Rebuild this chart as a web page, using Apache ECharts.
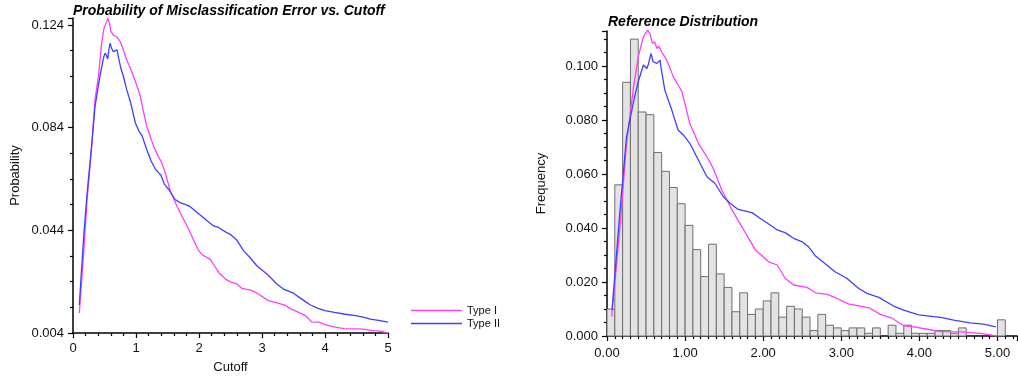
<!DOCTYPE html>
<html>
<head>
<meta charset="utf-8">
<script src="https://cdn.jsdelivr.net/npm/echarts@6/dist/echarts.min.js"></script>
<style>
  html, body { margin: 0; padding: 0; background: #fff; }
  #chart { width: 1018px; height: 379px; }
</style>
</head>
<body>
<div id="chart"></div>
<script>
// left panel: misclassification probability vs cutoff, [cutoff, probability]
const probTypeI = [
  [0.10,0.0118],[0.17,0.0353],[0.22,0.0548],[0.30,0.078],[0.35,0.0949],[0.41,0.1052],[0.45,0.116],
  [0.49,0.1225],[0.53,0.125],[0.555,0.1266],[0.58,0.1245],[0.60,0.1215],[0.62,0.1222],[0.64,0.1200],
  [0.67,0.1205],[0.69,0.1195],[0.72,0.1185],[0.75,0.1175],[0.80,0.1143],[0.85,0.1105],[0.91,0.1072],
  [0.99,0.102],[1.07,0.0962],[1.12,0.090],[1.17,0.0845],[1.28,0.0767],[1.35,0.073],[1.41,0.0703],
  [1.48,0.065],[1.545,0.0593],[1.65,0.0534],[1.73,0.0495],[1.81,0.0457],[1.90,0.041],[1.99,0.0362],
  [2.05,0.0345],[2.18,0.0327],[2.25,0.030],[2.31,0.0276],[2.42,0.025],[2.50,0.0239],[2.60,0.0231],
  [2.68,0.0214],[2.80,0.0208],[2.87,0.0202],[2.95,0.0191],[3.10,0.0166],[3.24,0.0157],[3.37,0.0148],
  [3.45,0.0135],[3.53,0.0126],[3.69,0.0108],[3.79,0.0083],[3.90,0.0082],[4.00,0.0073],[4.14,0.0064],
  [4.30,0.0057],[4.51,0.0056],[4.60,0.0055],[4.77,0.0049],[4.85,0.0048],[5.00,0.004]
];
const probTypeII = [
  [0.10,0.0149],[0.17,0.0418],[0.22,0.0573],[0.30,0.078],[0.35,0.0923],[0.41,0.1014],[0.45,0.107],
  [0.49,0.1117],[0.51,0.113],[0.53,0.1122],[0.55,0.1107],[0.57,0.1145],[0.59,0.1169],[0.61,0.1150],
  [0.64,0.1136],[0.67,0.113],[0.70,0.1143],[0.72,0.1117],[0.76,0.107],[0.80,0.104],[0.85,0.099],
  [0.91,0.0942],[0.99,0.0858],[1.05,0.0825],[1.10,0.0806],[1.17,0.0755],[1.24,0.071],[1.31,0.0677],
  [1.39,0.0657],[1.45,0.062],[1.52,0.0599],[1.62,0.056],[1.70,0.0548],[1.79,0.054],[1.86,0.0532],
  [1.97,0.0509],[2.10,0.0483],[2.23,0.0457],[2.31,0.0451],[2.44,0.0431],[2.50,0.0424],[2.60,0.0402],
  [2.71,0.036],[2.81,0.0334],[2.92,0.0301],[3.00,0.0285],[3.10,0.0265],[3.24,0.023],[3.34,0.0211],
  [3.42,0.0203],[3.50,0.0195],[3.63,0.0172],[3.77,0.0149],[3.88,0.0137],[4.00,0.0127],[4.15,0.012],
  [4.30,0.0114],[4.51,0.0107],[4.62,0.0101],[4.72,0.0094],[4.85,0.0089],[5.00,0.0082]
];

// right panel: reference distribution curves, [x, frequency]
const refTypeI = [
  [0.06,0.0072],[0.167,0.0405],[0.25,0.0714],[0.34,0.0923],[0.40,0.1034],[0.466,0.1109],[0.52,0.1133],
  [0.55,0.1121],[0.58,0.1084],[0.61,0.109],[0.64,0.1065],[0.66,0.1074],[0.70,0.1053],[0.765,0.1022],
  [0.85,0.096],[0.96,0.0905],[1.06,0.0788],[1.17,0.0714],[1.28,0.0664],[1.36,0.0621],[1.47,0.0541],
  [1.60,0.0467],[1.75,0.0393],[1.90,0.0319],[1.96,0.0304],[2.07,0.0275],[2.18,0.0263],[2.28,0.0214],
  [2.39,0.0189],[2.56,0.018],[2.67,0.016],[2.82,0.0154],[2.94,0.014],[3.09,0.0119],[3.24,0.0111],
  [3.37,0.0103],[3.50,0.008],[3.65,0.0066],[3.80,0.0038],[3.93,0.0034],[4.10,0.0025],[4.27,0.0016],
  [4.53,0.0015],[4.78,0.001],[4.95,0.0002],[5.00,0.0]
];
const refTypeII = [
  [0.064,0.0096],[0.167,0.0467],[0.25,0.0738],[0.34,0.0868],[0.40,0.0942],[0.466,0.1004],[0.51,0.0991],
  [0.53,0.1007],[0.564,0.1047],[0.59,0.1016],[0.64,0.101],[0.68,0.1022],[0.69,0.0998],[0.74,0.0911],
  [0.83,0.0837],[0.91,0.0763],[0.98,0.0744],[1.06,0.0714],[1.17,0.0652],[1.28,0.059],[1.38,0.0566],
  [1.49,0.0516],[1.58,0.0491],[1.68,0.0469],[1.855,0.0457],[1.96,0.0436],[2.09,0.0411],[2.18,0.0393],
  [2.28,0.0383],[2.39,0.0362],[2.50,0.0349],[2.58,0.0331],[2.67,0.0296],[2.79,0.0269],[2.92,0.0238],
  [3.07,0.0214],[3.22,0.0177],[3.33,0.0158],[3.48,0.0143],[3.67,0.0111],[3.80,0.0096],[3.99,0.0078],
  [4.27,0.0069],[4.44,0.0059],[4.65,0.0049],[4.82,0.0044],[4.98,0.0034]
];

// histogram bins (start of each bin) and their frequencies
const binStart = [
  0.0,0.1,0.2,0.3,0.4,0.5,0.6,0.7,0.8,0.9,
  1.0,1.1,1.2,1.3,1.4,1.5,1.6,1.7,1.8,1.9,
  2.0,2.1,2.2,2.3,2.4,2.5,2.6,2.7,2.8,2.9,
  3.0,3.1,3.2,3.3,3.4,3.5,3.6,3.7,3.8,3.9,
  4.0,4.1,4.2,4.3,4.4,4.5,4.6,4.7,4.8,4.9,
  5.0
];
const binFreq = [
  0.010,0.056,0.094,0.110,0.083,0.082,0.068,0.061,0.055,0.049,
  0.041,0.032,0.022,0.034,0.023,0.018,0.009,0.016,0.008,0.010,
  0.013,0.016,0.007,0.011,0.010,0.007,0.002,0.008,0.004,0.003,
  0.002,0.003,0.003,0.001,0.003,0.000,0.004,0.001,0.004,0.001,
  0.001,0.001,0.002,0.002,0.001,0.003,0.000,0.000,0.000,0.000,
  0.006
];
const binWidth = 0.1;

const FONT = '"Liberation Sans", Arial, Helvetica, sans-serif';
const typeIColor = '#ff3dff';
const typeIIColor = '#3f3fff';

const chart = echarts.init(document.getElementById('chart'));

const axisCommon = {
  axisLine: { show: true, onZero: false, lineStyle: { color: '#000', width: 1.5 } },
  axisTick: { show: true, length: 5, lineStyle: { color: '#000', width: 1.2 } },
  minorTick: { show: true, length: 3, lineStyle: { color: '#000', width: 1.2 } },
  splitLine: { show: false },
  axisLabel: { color: '#111', fontSize: 13, fontFamily: FONT },
  nameTextStyle: { color: '#111', fontSize: 13, fontFamily: FONT },
  nameLocation: 'middle'
};

function lineSeries(name, data, color, axisIndex) {
  return {
    name: name,
    type: 'line',
    data: data,
    xAxisIndex: axisIndex,
    yAxisIndex: axisIndex,
    symbol: 'none',
    clip: false,
    lineStyle: { color: color, width: 1.3 },
    itemStyle: { color: color },
    z: 5
  };
}

chart.setOption({
  animation: false,
  backgroundColor: '#fff',
  title: [
    {
      text: 'Probability of Misclassification Error vs. Cutoff',
      left: 73, top: 4, padding: 0,
      textStyle: { fontSize: 14, fontWeight: 'bold', fontStyle: 'italic', fontFamily: FONT, color: '#000' }
    },
    {
      text: 'Reference Distribution',
      left: 608, top: 15, padding: 0,
      textStyle: { fontSize: 14, fontWeight: 'bold', fontStyle: 'italic', fontFamily: FONT, color: '#000' }
    }
  ],
  legend: {
    orient: 'vertical',
    left: 411, top: 304, padding: 0,
    itemWidth: 51, itemHeight: 1.5, itemGap: 0,
    icon: 'rect',
    textStyle: { fontSize: 11, fontFamily: FONT, color: '#111', lineHeight: 13 },
    data: ['Type I', 'Type II']
  },
  grid: [
    { left: 73, top: 18, width: 315, height: 316 },
    { left: 607, top: 31, width: 410, height: 305 }
  ],
  xAxis: [
    Object.assign({}, axisCommon, {
      gridIndex: 0, type: 'value', min: 0, max: 5, interval: 1,
      name: 'Cutoff', nameGap: 28,
      minorTick: Object.assign({}, axisCommon.minorTick, { splitNumber: 5 }),
      axisLabel: Object.assign({}, axisCommon.axisLabel, { margin: 9 })
    }),
    Object.assign({}, axisCommon, {
      gridIndex: 1, type: 'value', min: 0, max: 5.25, interval: 1,
      minorTick: Object.assign({}, axisCommon.minorTick, { splitNumber: 10 }),
      axisLabel: Object.assign({}, axisCommon.axisLabel, {
        margin: 11, showMaxLabel: false,
        formatter: v => v.toFixed(2)
      })
    })
  ],
  yAxis: [
    Object.assign({}, axisCommon, {
      gridIndex: 0, type: 'value', min: 0.004, max: 0.1267, interval: 0.04,
      name: 'Probability', nameGap: 51,
      minorTick: Object.assign({}, axisCommon.minorTick, { splitNumber: 4 }),
      axisLabel: Object.assign({}, axisCommon.axisLabel, {
        margin: 9, showMaxLabel: false,
        formatter: v => v.toFixed(3)
      })
    }),
    Object.assign({}, axisCommon, {
      gridIndex: 1, type: 'value', min: 0, max: 0.113, interval: 0.02,
      name: 'Frequency', nameGap: 59,
      minorTick: Object.assign({}, axisCommon.minorTick, { splitNumber: 4 }),
      axisLabel: Object.assign({}, axisCommon.axisLabel, {
        margin: 9, showMaxLabel: false,
        formatter: v => v.toFixed(3)
      })
    })
  ],
  series: [
    lineSeries('Type I', probTypeI, typeIColor, 0),
    lineSeries('Type II', probTypeII, typeIIColor, 0),
    {
      type: 'custom',
      name: 'Reference',
      xAxisIndex: 1,
      yAxisIndex: 1,
      data: binStart.map((x, i) => [x, binFreq[i]]),
      renderItem: function (params, api) {
        const x0 = api.value(0);
        const v = api.value(1);
        if (!v) return null;
        const p0 = api.coord([x0, 0]);
        const p1 = api.coord([x0 + binWidth, v]);
        return {
          type: 'rect',
          shape: { x: p0[0], y: p1[1], width: p1[0] - p0[0], height: p0[1] - p1[1] },
          style: { fill: '#e3e3e3', stroke: '#6e6e6e', lineWidth: 1 }
        };
      },
      z: 2
    },
    lineSeries('Type I', refTypeI, typeIColor, 1),
    lineSeries('Type II', refTypeII, typeIIColor, 1)
  ]
});
</script>
</body>
</html>
